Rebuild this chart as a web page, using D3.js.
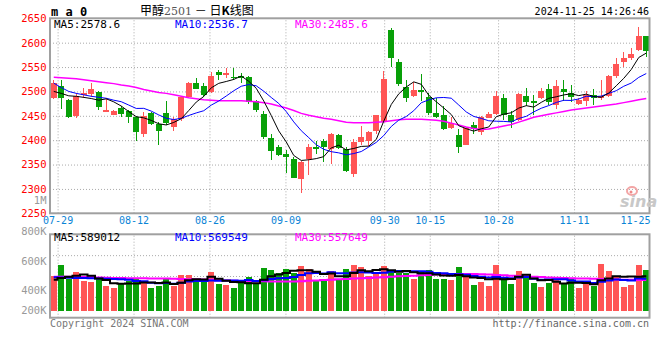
<!DOCTYPE html>
<html>
<head>
<meta charset="utf-8">
<script src="https://cdn.jsdelivr.net/npm/d3@7"></script>
<style>
  body { margin: 0; background: #fff; }
  svg { display: block; }
  text { font-family: "DejaVu Sans Mono", monospace; }
</style>
</head>
<body>
<div id="chart"></div>
<script>
// trading days shown (07-26 is cut at the left edge)
const dates = ["07-26","07-29","07-30","07-31","08-01","08-02","08-05","08-06","08-07","08-08",
  "08-09","08-12","08-13","08-14","08-15","08-16","08-19","08-20","08-21","08-22",
  "08-23","08-26","08-27","08-28","08-29","08-30","09-02","09-03","09-04","09-05",
  "09-06","09-09","09-10","09-11","09-12","09-13","09-18","09-19","09-20","09-23",
  "09-24","09-25","09-26","09-27","09-30","10-08","10-09","10-10","10-11","10-14",
  "10-15","10-16","10-17","10-18","10-21","10-22","10-23","10-24","10-25","10-28",
  "10-29","10-30","10-31","11-01","11-04","11-05","11-06","11-07","11-08","11-11",
  "11-12","11-13","11-14","11-15","11-18","11-19","11-20","11-21","11-22","11-25"];

const open = [2487,2512,2482,2450,2492,2495,2498,2458,2452,2467,
  2460,2448,2413,2456,2434,2456,2428,2443,2489,2518,
  2512,2498,2539,2535,2529,2531,2530,2480,2453,2404,
  2385,2371,2361,2320,2361,2385,2399,2382,2410,2382,
  2330,2397,2398,2419,2438,2626,2561,2510,2491,2502,
  2489,2456,2452,2424,2411,2391,2431,2416,2446,2454,
  2486,2452,2441,2491,2480,2486,2505,2472,2506,2497,
  2474,2480,2493,2486,2491,2532,2561,2568,2585,2614];
const high = [2523,2523,2484,2496,2508,2517,2501,2486,2462,2471,
  2462,2449,2458,2458,2438,2480,2448,2489,2520,2527,
  2517,2539,2544,2549,2549,2537,2532,2482,2460,2413,
  2390,2380,2366,2358,2393,2399,2402,2415,2412,2387,
  2402,2430,2419,2452,2542,2631,2567,2523,2520,2535,
  2497,2486,2471,2448,2423,2428,2438,2450,2458,2501,
  2494,2459,2496,2508,2493,2508,2515,2523,2523,2513,
  2486,2501,2505,2523,2534,2568,2580,2590,2632,2614];
const low = [2484,2464,2446,2445,2487,2489,2462,2457,2451,2448,
  2435,2399,2406,2431,2391,2431,2419,2439,2488,2505,
  2489,2496,2523,2527,2523,2517,2474,2457,2402,2359,
  2368,2333,2322,2292,2329,2372,2356,2351,2381,2335,
  2325,2391,2388,2412,2437,2551,2512,2479,2489,2480,
  2452,2445,2421,2422,2373,2390,2412,2411,2445,2452,
  2441,2424,2439,2471,2452,2484,2472,2463,2480,2478,
  2472,2471,2472,2482,2489,2527,2551,2564,2583,2571];
const close = [2517,2486,2448,2491,2497,2505,2469,2462,2460,2454,
  2448,2417,2450,2434,2419,2436,2443,2488,2518,2506,
  2493,2532,2534,2537,2527,2528,2478,2462,2407,2378,
  2370,2365,2323,2356,2385,2382,2385,2413,2383,2337,
  2397,2406,2416,2451,2525,2568,2515,2487,2503,2500,
  2456,2448,2423,2436,2385,2426,2423,2447,2454,2491,
  2452,2437,2495,2479,2476,2501,2478,2511,2498,2488,
  2482,2493,2486,2491,2532,2556,2569,2577,2614,2583];

const ma5 = [2500,2496,2491,2490,2487.8,2485.4,2482,2484.8,2478.6,2470,
  2458.6,2448.2,2445.8,2440.6,2433.6,2431.2,2436.4,2444,2460.8,2478.2,
  2489.6,2507.4,2516.6,2520.4,2524.6,2531.6,2520.8,2506.4,2480.4,2450.6,
  2419,2396.4,2368.6,2358.4,2359.8,2362.2,2366.2,2384.2,2389.6,2380,
  2383,2387.2,2387.8,2401.4,2439,2473.2,2495,2509.2,2519.6,2514.6,
  2492.2,2478.8,2466,2452.6,2429.6,2423.6,2418.6,2423.4,2427,2448.2,
  2453.4,2456.2,2465.8,2470.8,2467.8,2477.6,2485.8,2489,2492.8,2495.2,
  2491.4,2494.4,2489.4,2488,2496.8,2511.6,2526.8,2545,2569.6,2578.6];
const ma10 = [2517,2508,2500,2496,2493,2490,2488,2486,2482,2478.9,
  2472,2465.1,2465.3,2459.6,2451.8,2444.9,2442.3,2444.9,2450.7,2455.9,
  2460.4,2471.9,2480.3,2490.6,2501.4,2510.6,2514.1,2511.5,2500.4,2487.6,
  2475.3,2458.6,2437.5,2419.4,2405.2,2390.6,2381.3,2376.4,2374,2369.9,
  2372.6,2376.7,2386,2395.5,2409.5,2428.1,2441.1,2448.5,2460.5,2476.8,
  2482.7,2486.9,2487.6,2486.1,2472.1,2457.9,2448.7,2444.7,2439.8,2438.9,
  2438.5,2437.4,2444.6,2448.9,2458,2465.5,2471,2477.4,2481.8,2481.5,
  2484.5,2490.1,2489.2,2490.4,2496,2501.5,2510.6,2517.2,2528.8,2536.7];
const ma30 = [2529,2528,2527,2526,2524,2522,2520,2518,2516,2513,
  2511,2508,2504,2501,2498,2496,2493,2490,2487,2485,
  2483,2482,2481,2481,2481,2481,2480,2479,2477,2474,
  2470,2466,2461,2455,2451,2448,2445,2443,2440,2437,
  2436,2436,2436,2437,2438,2440,2442,2443,2443,2443,
  2442,2441,2439,2435,2431,2427,2424,2422,2423,2426,
  2429,2432,2437,2442,2447,2450,2453,2456,2459,2462,
  2464,2466,2468,2470,2472,2474,2477,2480,2483,2485.6];

const volume = [592000,684000,567000,625000,550000,541000,567000,508000,494000,524000,
  550000,567000,550000,491000,508000,567000,510000,600000,600000,550000,
  550000,625000,524000,516000,491000,544000,583000,524000,659000,642000,
  614000,651000,614000,676000,651000,550000,550000,634000,564000,651000,
  684000,668000,592000,620000,676000,642000,614000,614000,567000,634000,
  642000,567000,567000,558000,668000,592000,516000,541000,508000,684000,
  575000,524000,634000,592000,533000,499000,533000,558000,524000,567000,
  491000,524000,508000,693000,634000,592000,499000,516000,684000,642000];
const volMa5 = [560000,575000,585000,595000,603600,593400,570000,558200,532000,526800,
  528600,528600,537000,536400,533200,536600,525200,535200,557000,565400,
  562000,585000,569800,553000,541200,540000,531600,531600,560200,590400,
  604400,618000,636000,639400,641200,628400,608200,612200,589800,589800,
  616600,640200,631800,643000,648000,639600,628800,633200,622600,614200,
  614200,604800,595400,593600,600400,590400,580200,575000,565000,568200,
  564800,566400,585000,601800,571600,556400,558200,543000,529400,536200,
  534600,532800,522800,556600,570000,590200,585200,586800,585000,589012];
const volMa10 = [582000,580000,578000,576000,575000,573000,571000,569000,567000,565200,
  561000,549300,547600,534200,530000,532600,526900,536100,546700,549300,
  549300,555100,552500,555000,553300,551000,558300,550700,556600,565800,
  572200,574800,583800,599800,615800,616400,613100,624100,614600,615500,
  622500,624200,622000,616400,618900,628100,634500,632500,632800,631100,
  626900,616800,614300,608100,607300,602300,592500,585200,579300,584300,
  577600,573300,580000,583400,569900,560600,562300,564000,565600,553900,
  545500,545500,532900,543000,553100,562400,559000,554800,570800,569549];
const volMa30 = [586000,586000,585000,585000,584000,583000,580000,578000,576000,575000,
  574000,573000,573000,572000,572000,571000,568000,566000,565000,564000,
  563000,561000,557000,554000,552000,550000,549000,548000,547000,546000,
  545000,545000,546000,548000,551000,555000,558000,561000,564000,567000,
  570000,573000,576000,579000,582000,586000,589000,592000,595000,598000,
  601000,604000,606000,608000,609000,609000,608000,606000,604000,601000,
  598000,595000,592000,589000,586000,583000,580000,578000,576000,574000,
  572000,570000,568000,566000,564000,562000,561000,560000,558000,557649];

const priceTicks = [2650,2600,2550,2500,2450,2400,2350,2300,2250];
const dateTicks = ["07-29","08-12","08-26","09-09","09-30","10-15","10-28","11-11","11-25"];
const volTicks = [1000000,800000,600000,400000,200000];

const RED = "#ff5555", GREEN = "#08a008";
const gridColor = "#aaa", frameColor = "#a0a0a0";

let svg = d3.select("#chart").append("svg")
  .attr("width", 660)
  .attr("height", 360);

// panels
const p = {left: 50, right: 649.5, top: 18.3, bottom: 213.3};
const vp = {top: 234.3, base: 310.7, bottom: 317.7};

let x = d3.scaleBand().domain(dates).range([50, 650]).paddingInner(0.2).paddingOuter(0.1);
let xGrid = d3.scalePoint().domain(dates).range([50, 650]);
let y = d3.scaleLinear().domain([2250, 2650]).range([p.bottom, p.top]);
let yVol = d3.scaleLinear().domain([300000, 900000]).range([vp.base, 239.4]);
let yVolLabel = d3.scaleLinear().domain([200000, 400000, 600000, 800000, 1000000]).range([310, 290, 261, 231, 200]);
let yVolGrid = d3.scaleLinear().domain([0, 4]).range([vp.bottom, vp.top]);
const cx = d => x(d) + x.bandwidth() / 2;

function dotted(g) {
  g.select(".domain").remove();
  g.selectAll(".tick line").attr("stroke", gridColor).attr("stroke-dasharray", "1,2");
  g.selectAll(".tick text").remove();
}

const gridDates = dateTicks.filter(d => xGrid(d) < 649);

// grid lines
svg.append("g").attr("transform", "translate(0," + p.bottom + ")")
  .call(d3.axisBottom(xGrid).tickValues(gridDates).tickSize(-(p.bottom - p.top)))
  .call(dotted);
svg.append("g").attr("transform", "translate(0," + vp.bottom + ")")
  .call(d3.axisBottom(xGrid).tickValues(gridDates).tickSize(-(vp.bottom - vp.top)))
  .call(dotted);
svg.append("g").attr("transform", "translate(" + p.left + ",0)")
  .call(d3.axisLeft(y).tickValues(priceTicks.slice(1, -1)).tickSize(-(p.right - p.left)))
  .call(dotted);
svg.append("g").attr("transform", "translate(" + p.left + ",0)")
  .call(d3.axisLeft(yVolGrid).tickValues([1, 2, 3]).tickSize(-(p.right - p.left)))
  .call(dotted);

// candles
const candles = dates.map((d, i) => ({date: d, o: open[i], h: high[i], l: low[i], c: close[i]}));
const col = d => d.c >= d.o ? RED : GREEN;

const cg = svg.append("g").attr("shape-rendering", "crispEdges");
cg.selectAll("line")
  .data(candles)
  .join("line")
  .attr("x1", d => cx(d.date))
  .attr("x2", d => cx(d.date))
  .attr("y1", d => y(d.h))
  .attr("y2", d => y(d.l))
  .attr("stroke", col);
cg.selectAll("rect")
  .data(candles)
  .join("rect")
  .attr("x", d => x(d.date))
  .attr("y", d => y(Math.max(d.o, d.c)))
  .attr("width", x.bandwidth())
  .attr("height", d => Math.max(1.2, Math.abs(y(d.o) - y(d.c))))
  .attr("fill", col);

// moving averages
const maLine = d3.line().x((d, i) => cx(dates[i])).y(d => y(d));
[[ma30, "#ff00ff", 1.5], [ma10, "#0000ff", 1], [ma5, "#000", 1]].forEach(([arr, c, w]) => {
  svg.append("path").datum(arr)
    .attr("d", maLine)
    .attr("fill", "none")
    .attr("stroke", c)
    .attr("stroke-width", w);
});

// volume
svg.append("g").attr("shape-rendering", "crispEdges")
  .selectAll("rect")
  .data(volume)
  .join("rect")
  .attr("x", (d, i) => x(dates[i]))
  .attr("y", d => yVol(d))
  .attr("width", x.bandwidth())
  .attr("height", d => vp.base - yVol(d))
  .attr("fill", (d, i) => close[i] >= open[i] ? RED : GREEN);

const volLine = d3.line().x((d, i) => cx(dates[i])).y(d => yVol(d)).curve(d3.curveStep);
[[volMa30, "#ff00ff"], [volMa10, "#0000ff"], [volMa5, "#000"]].forEach(([arr, c]) => {
  svg.append("path").datum(arr)
    .attr("d", volLine)
    .attr("fill", "none")
    .attr("stroke", c)
    .attr("stroke-width", 2);
});

// frames
svg.append("rect").attr("x", p.left).attr("y", p.top)
  .attr("width", p.right - p.left).attr("height", p.bottom - p.top)
  .attr("fill", "none").attr("stroke", frameColor).attr("stroke-width", 2);
svg.append("rect").attr("x", p.left).attr("y", vp.top)
  .attr("width", p.right - p.left).attr("height", vp.bottom - vp.top)
  .attr("fill", "none").attr("stroke", frameColor).attr("stroke-width", 2);

// axes labels
svg.append("g").attr("transform", "translate(49.5,0)")
  .call(d3.axisLeft(y).tickValues(priceTicks).tickSize(0).tickPadding(3).tickFormat(d3.format("d")))
  .call(g => g.select(".domain").remove())
  .selectAll("text")
  .attr("fill", "#f00")
  .attr("font-size", "10.5px")
  .attr("font-family", "DejaVu Sans Mono");

svg.append("g").attr("transform", "translate(49.5,0)")
  .call(d3.axisLeft(yVolLabel).tickValues(volTicks).tickSize(0).tickPadding(3)
    .tickFormat(d => d >= 1000000 ? "1M" : (d / 1000) + "K"))
  .call(g => g.select(".domain").remove())
  .selectAll("text")
  .attr("fill", "#999")
  .attr("font-size", "10.5px")
  .attr("font-family", "DejaVu Sans Mono");

svg.append("g").attr("transform", "translate(0," + p.bottom + ")")
  .call(d3.axisBottom(xGrid).tickValues(dateTicks).tickSize(0).tickPadding(4))
  .call(g => g.select(".domain").remove())
  .selectAll("text")
  .attr("fill", "#0a84d6")
  .attr("font-size", "10px")
  .attr("font-family", "DejaVu Sans Mono")
  .attr("text-anchor", d => xGrid(d) > 640 ? "end" : "middle");

// legends
const legend = (yy, items) => items.forEach(([tx, xx, c]) => {
  svg.append("text").attr("x", xx).attr("y", yy)
    .attr("fill", c).attr("font-size", "11px").text(tx);
});
legend(27.5, [["MA5:2578.6", 54, "#000"], ["MA10:2536.7", 175, "#0000ff"], ["MA30:2485.6", 295, "#ff00ff"]]);
legend(241, [["MA5:589012", 54, "#000"], ["MA10:569549", 175, "#0000ff"], ["MA30:557649", 295, "#ff00ff"]]);

// header
svg.append("text").attr("x", 51).attr("y", 15.5)
  .attr("font-size", "12px").attr("font-weight", "bold").attr("fill", "#000")
  .text("m a 0");

let title = svg.append("text").attr("x", 140).attr("y", 15)
  .attr("font-size", "12px").attr("fill", "#000")
  .style("font-family", "'Noto Sans CJK SC', sans-serif");
title.append("tspan").text("甲醇");
title.append("tspan").attr("fill", "#555").attr("font-size", "11px")
  .style("font-family", "'DejaVu Serif', serif").text("2501");
title.append("tspan").text(" － 日");
title.append("tspan").attr("font-weight", "bold").text("K");
title.append("tspan").text("线图");

svg.append("text").attr("x", 649).attr("y", 15)
  .attr("text-anchor", "end").attr("font-size", "10px").attr("fill", "#000")
  .text("2024-11-25 14:26:46");

// footer
svg.append("text").attr("x", 50).attr("y", 327)
  .attr("font-size", "10px").attr("fill", "#777")
  .text("Copyright 2024 SINA.COM");
svg.append("text").attr("x", 649).attr("y", 327)
  .attr("text-anchor", "end").attr("font-size", "10px").attr("fill", "#666")
  .text("http://finance.sina.com.cn");

// sina watermark
svg.append("ellipse").attr("cx", 632).attr("cy", 191).attr("rx", 5).attr("ry", 4)
  .attr("fill", "none").attr("stroke", "#f3a5a5").attr("stroke-width", 2);
svg.append("circle").attr("cx", 631).attr("cy", 192).attr("r", 1.5).attr("fill", "#e88");
svg.append("text").attr("x", 620).attr("y", 207)
  .attr("font-size", "16px").attr("font-weight", "bold").attr("font-style", "italic")
  .attr("fill", "#c8c8c8").style("font-family", "'DejaVu Sans', sans-serif")
  .text("sina");
</script>
</body>
</html>
